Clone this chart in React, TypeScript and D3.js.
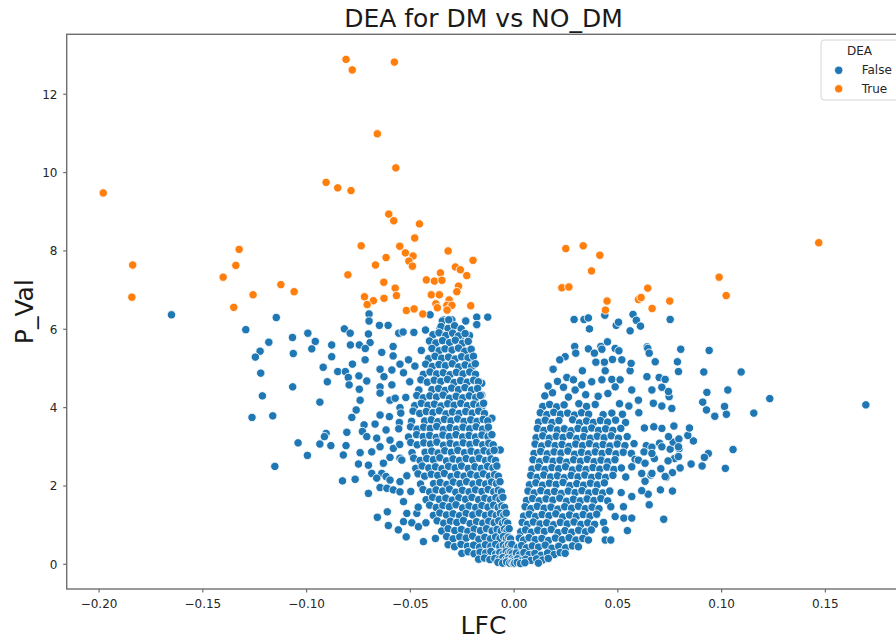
import React from "react";
import * as d3 from "d3";

// ---- data: differential expression results (LFC vs -log10 p) ----
type Pt = [number, number];

// genes flagged as differentially expressed (DEA = True)
const deGenes: Pt[] = [
  [-0.081, 12.89], [-0.078, 12.62], [-0.0577, 12.82], [-0.0659, 10.99], [-0.057, 10.12],
  [-0.0906, 9.75], [-0.085, 9.61], [-0.0786, 9.54], [-0.0604, 8.94], [-0.058, 8.77],
  [-0.0456, 8.69], [-0.0479, 8.33], [-0.0737, 8.13], [-0.0551, 8.12], [-0.0524, 7.95],
  [-0.0487, 7.87], [-0.0617, 7.83], [-0.0507, 7.74], [-0.049, 7.61], [-0.0668, 7.64],
  [-0.0318, 8.0], [-0.0198, 7.76], [-0.0283, 7.59], [-0.0259, 7.52], [-0.0228, 7.37],
  [-0.0355, 7.44], [-0.0801, 7.39], [-0.0423, 7.26], [-0.0384, 7.23], [-0.0348, 7.25],
  [-0.0628, 7.2], [-0.0573, 7.05], [-0.0268, 7.1], [-0.0276, 6.96], [-0.0399, 6.88],
  [-0.036, 6.88], [-0.0721, 6.83], [-0.0567, 6.86], [-0.0627, 6.79], [-0.0678, 6.73],
  [-0.0708, 6.63], [-0.0313, 6.75], [-0.0377, 6.65], [-0.037, 6.55], [-0.0324, 6.61],
  [-0.03, 6.61], [-0.0323, 6.49], [-0.0519, 6.48], [-0.0482, 6.52], [-0.044, 6.39],
  [-0.0209, 6.6],
  [-0.198, 9.48], [-0.1838, 7.64], [-0.1842, 6.82], [-0.1325, 8.04], [-0.1341, 7.63],
  [-0.1402, 7.33], [-0.1258, 6.88], [-0.1351, 6.56], [-0.1124, 7.14], [-0.106, 6.96],
  [0.0249, 8.06], [0.0333, 8.13], [0.0413, 7.89], [0.0373, 7.49], [0.023, 7.06],
  [0.0264, 7.08], [0.0448, 6.72], [0.044, 6.49], [0.0644, 7.05], [0.0599, 6.76],
  [0.0612, 6.81], [0.0665, 6.53], [0.075, 6.72], [0.0988, 7.33], [0.1022, 6.86],
  [0.1468, 8.21],
];

// down-regulated side, scattered genes
const leftSpread: Pt[] = [
  [-0.1651, 6.37], [-0.1293, 5.99], [-0.1146, 6.3], [-0.1068, 5.79], [-0.0994, 5.9],
  [-0.0958, 5.69], [-0.0975, 5.5], [-0.1182, 5.67], [-0.1224, 5.44], [-0.1247, 5.29],
  [-0.1064, 5.38], [-0.1221, 4.88], [-0.1067, 4.53], [-0.1213, 4.3], [-0.0936, 4.14],
  [-0.1263, 3.75], [-0.1163, 3.79], [-0.1041, 3.1], [-0.0936, 3.07], [-0.0996, 2.78],
  [-0.1153, 2.5],
  [-0.0699, 6.39], [-0.0699, 6.21], [-0.0818, 6.01], [-0.079, 5.9], [-0.0702, 5.88],
  [-0.0649, 6.1], [-0.0607, 6.1], [-0.0556, 5.9], [-0.0535, 5.93], [-0.0483, 5.92],
  [-0.0427, 5.98], [-0.0405, 6.37], [-0.0879, 5.6], [-0.0879, 5.3], [-0.0789, 5.6],
  [-0.0746, 5.6], [-0.0694, 5.66], [-0.0717, 5.51], [-0.0638, 5.41], [-0.0583, 5.56],
  [-0.0583, 5.32], [-0.0779, 5.11], [-0.0718, 5.22], [-0.092, 5.03], [-0.085, 4.92],
  [-0.0813, 4.92], [-0.0799, 4.77], [-0.0748, 4.81], [-0.071, 4.68], [-0.09, 4.66],
  [-0.0795, 4.58], [-0.0746, 4.47], [-0.0646, 4.98], [-0.0589, 4.96], [-0.0533, 4.89],
  [-0.055, 5.11], [-0.0509, 5.22], [-0.0627, 4.79], [-0.0646, 4.53], [-0.0646, 4.37],
  [-0.0589, 4.58], [-0.0742, 4.19], [-0.0598, 4.19], [-0.055, 4.0], [-0.0573, 4.24],
  [-0.0761, 3.94], [-0.0782, 3.75], [-0.0646, 3.81], [-0.0601, 3.77], [-0.067, 3.58],
  [-0.0723, 3.56], [-0.0553, 3.62], [-0.0806, 3.37], [-0.0906, 3.34], [-0.0914, 3.26],
  [-0.0731, 3.39], [-0.071, 3.26], [-0.0662, 3.22], [-0.0617, 3.43], [-0.0598, 3.17],
  [-0.0883, 3.03], [-0.081, 3.03], [-0.0823, 2.79], [-0.0742, 2.85], [-0.0686, 2.87],
  [-0.0646, 3.0], [-0.0582, 2.96], [-0.0598, 2.73], [-0.055, 2.71], [-0.075, 2.56],
  [-0.0702, 2.53], [-0.063, 2.58], [-0.0686, 2.32], [-0.0638, 2.32], [-0.0617, 2.24],
  [-0.0662, 2.2], [-0.0827, 2.13], [-0.0766, 2.17], [-0.0598, 2.15], [-0.055, 2.11],
  [-0.0646, 1.96], [-0.0702, 1.81], [-0.0613, 1.94], [-0.0582, 1.9], [-0.055, 1.85],
  [-0.0659, 1.2], [-0.0611, 1.34], [-0.0606, 0.99], [-0.0558, 0.88], [-0.052, 0.7],
  [-0.0533, 1.09], [-0.0517, 1.3], [-0.0469, 1.3], [-0.0437, 0.58], [-0.0493, 1.06],
  [-0.0461, 0.96], [-0.0533, 1.6],
  [-0.0107, 3.73], [-0.0083, 2.92], [-0.0107, 3.0],
  [-0.034, 6.24], [-0.03, 6.24], [-0.0235, 6.22], [-0.018, 6.31], [-0.0127, 6.31],
  [-0.018, 6.11], [-0.0357, 6.02], [-0.0215, 5.84], [-0.026, 5.77], [-0.0212, 5.39],
  [-0.0212, 5.23], [-0.0204, 5.0], [-0.0156, 4.62], [-0.0156, 4.32], [-0.0156, 4.02],
  [-0.0132, 3.43], [-0.0067, 2.92], [-0.0346, 6.21], [-0.0315, 6.24], [-0.0233, 6.21],
  [-0.018, 6.12],
];

// down-regulated side, dense core
const leftCore: Pt[] = [
  [-0.0352, 6.07], [-0.0318, 6.02], [-0.0287, 6.09], [-0.0255, 6.01],
  [-0.0391, 5.86], [-0.0362, 5.91], [-0.0329, 5.84], [-0.0296, 5.9], [-0.0268, 5.83], [-0.0236, 5.89],
  [-0.0408, 5.7], [-0.0377, 5.65], [-0.0345, 5.71], [-0.0311, 5.66], [-0.0283, 5.72], [-0.0249, 5.64], [-0.0221, 5.69],
  [-0.0447, 5.46], [-0.0396, 5.51], [-0.0361, 5.45], [-0.0333, 5.5], [-0.0299, 5.47], [-0.0268, 5.52], [-0.0237, 5.44], [-0.0207, 5.49],
  [-0.0412, 5.25], [-0.0381, 5.31], [-0.0349, 5.26], [-0.0316, 5.29], [-0.0284, 5.24], [-0.0253, 5.3], [-0.0222, 5.27], [-0.0196, 5.31],
  [-0.0478, 5.06], [-0.0426, 5.11], [-0.0394, 5.05], [-0.0362, 5.1], [-0.0331, 5.07], [-0.0298, 5.12], [-0.0267, 5.04], [-0.0236, 5.09], [-0.0205, 5.05], [-0.0187, 5.12],
  [-0.0437, 4.85], [-0.0405, 4.91], [-0.0373, 4.86], [-0.0341, 4.89], [-0.0309, 4.84], [-0.0278, 4.9], [-0.0246, 4.86], [-0.0214, 4.91], [-0.0186, 4.85],
  [-0.0503, 4.66], [-0.0449, 4.71], [-0.0418, 4.65], [-0.0385, 4.7], [-0.0353, 4.67], [-0.0321, 4.72], [-0.0289, 4.64], [-0.0258, 4.69], [-0.0226, 4.65], [-0.0195, 4.7], [-0.0172, 4.66],
  [-0.0459, 4.45], [-0.0396, 4.46], [-0.0364, 4.49], [-0.0332, 4.44], [-0.0301, 4.5], [-0.0268, 4.46], [-0.0237, 4.51], [-0.0205, 4.45], [-0.0176, 4.49],
  [-0.0522, 4.26], [-0.0469, 4.31], [-0.0438, 4.25], [-0.0406, 4.3], [-0.0374, 4.27], [-0.0342, 4.32], [-0.0311, 4.24], [-0.0279, 4.29], [-0.0247, 4.25], [-0.0216, 4.3], [-0.0185, 4.26], [-0.0163, 4.31],
  [-0.0479, 4.05], [-0.0447, 4.11], [-0.0415, 4.06], [-0.0384, 4.09], [-0.0352, 4.04], [-0.032, 4.1], [-0.0289, 4.06], [-0.0257, 4.11], [-0.0225, 4.05], [-0.0194, 4.09], [-0.0166, 4.05], [-0.0147, 4.11],
  [-0.0546, 3.86], [-0.0487, 3.91], [-0.0455, 3.85], [-0.0423, 3.9], [-0.0391, 3.87], [-0.036, 3.92], [-0.0328, 3.84], [-0.0297, 3.89], [-0.0265, 3.85], [-0.0233, 3.9], [-0.0202, 3.86], [-0.0171, 3.91], [-0.0143, 3.85],
  [-0.0494, 3.65], [-0.0431, 3.66], [-0.0399, 3.69], [-0.0367, 3.64], [-0.0336, 3.7], [-0.0304, 3.66], [-0.0272, 3.71], [-0.0241, 3.65], [-0.0209, 3.69], [-0.0178, 3.65], [-0.0149, 3.7], [-0.0127, 3.66],
  [-0.0556, 3.46], [-0.0499, 3.51], [-0.0468, 3.45], [-0.0436, 3.5], [-0.0404, 3.47], [-0.0373, 3.52], [-0.0341, 3.44], [-0.0309, 3.49], [-0.0278, 3.45], [-0.0246, 3.5], [-0.0214, 3.46], [-0.0183, 3.51], [-0.0152, 3.45], [-0.0124, 3.5],
  [-0.0509, 3.25], [-0.047, 3.31], [-0.0438, 3.26], [-0.0407, 3.29], [-0.0375, 3.24], [-0.0343, 3.3], [-0.0312, 3.26], [-0.028, 3.31], [-0.0248, 3.25], [-0.0217, 3.29], [-0.0186, 3.25], [-0.0155, 3.3], [-0.0126, 3.26], [-0.0107, 3.31],
  [-0.0551, 3.06], [-0.0498, 3.11], [-0.0467, 3.05], [-0.0435, 3.1], [-0.0403, 3.07], [-0.0372, 3.12], [-0.034, 3.04], [-0.0308, 3.09], [-0.0277, 3.05], [-0.0245, 3.1], [-0.0213, 3.06], [-0.0182, 3.11], [-0.0151, 3.05], [-0.0122, 3.09], [-0.0101, 3.05],
  [-0.0492, 2.85], [-0.0429, 2.86], [-0.0397, 2.89], [-0.0366, 2.84], [-0.0334, 2.9], [-0.0302, 2.86], [-0.0271, 2.91], [-0.0239, 2.85], [-0.0207, 2.89], [-0.0176, 2.85], [-0.0145, 2.9], [-0.0117, 2.86], [-0.0096, 2.91],
  [-0.0541, 2.66], [-0.0484, 2.71], [-0.0453, 2.65], [-0.0421, 2.7], [-0.0389, 2.67], [-0.0358, 2.72], [-0.0326, 2.64], [-0.0294, 2.69], [-0.0263, 2.65], [-0.0231, 2.7], [-0.0199, 2.66], [-0.0168, 2.71], [-0.0138, 2.65], [-0.0111, 2.69], [-0.009, 2.65],
  [-0.0474, 2.45], [-0.0443, 2.51], [-0.0411, 2.46], [-0.0379, 2.49], [-0.0348, 2.44], [-0.0316, 2.5], [-0.0284, 2.46], [-0.0253, 2.51], [-0.0221, 2.45], [-0.0189, 2.49], [-0.0158, 2.45], [-0.0128, 2.5], [-0.0102, 2.46], [-0.0083, 2.51],
  [-0.0517, 2.26], [-0.0463, 2.31], [-0.0431, 2.25], [-0.0399, 2.3], [-0.0368, 2.27], [-0.0336, 2.32], [-0.0304, 2.24], [-0.0273, 2.29], [-0.0241, 2.25], [-0.0209, 2.3], [-0.0178, 2.26], [-0.0148, 2.31], [-0.0119, 2.25], [-0.0094, 2.29], [-0.0076, 2.25],
  [-0.0451, 2.05], [-0.0388, 2.06], [-0.0356, 2.09], [-0.0324, 2.04], [-0.0293, 2.1], [-0.0261, 2.06], [-0.0229, 2.11], [-0.0198, 2.05], [-0.0167, 2.09], [-0.0137, 2.05], [-0.0109, 2.1], [-0.0085, 2.06], [-0.0068, 2.11],
  [-0.0498, 1.86], [-0.0439, 1.91], [-0.0407, 1.85], [-0.0376, 1.9], [-0.0344, 1.87], [-0.0312, 1.92], [-0.0281, 1.84], [-0.0249, 1.89], [-0.0217, 1.85], [-0.0186, 1.9], [-0.0155, 1.86], [-0.0125, 1.91], [-0.0098, 1.85], [-0.0076, 1.89], [-0.0061, 1.85],
  [-0.0424, 1.65], [-0.0393, 1.71], [-0.0361, 1.66], [-0.0329, 1.69], [-0.0298, 1.64], [-0.0266, 1.7], [-0.0234, 1.66], [-0.0203, 1.71], [-0.0171, 1.65], [-0.0141, 1.69], [-0.0113, 1.65], [-0.0088, 1.7], [-0.0068, 1.66], [-0.0054, 1.71],
  [-0.0462, 1.46], [-0.0407, 1.51], [-0.0375, 1.45], [-0.0343, 1.5], [-0.0312, 1.47], [-0.028, 1.52], [-0.0248, 1.44], [-0.0217, 1.49], [-0.0185, 1.45], [-0.0155, 1.5], [-0.0126, 1.46], [-0.0099, 1.51], [-0.0077, 1.45], [-0.0059, 1.49], [-0.0046, 1.45],
  [-0.0389, 1.25], [-0.0358, 1.31], [-0.0326, 1.26], [-0.0294, 1.29], [-0.0263, 1.24], [-0.0231, 1.3], [-0.0199, 1.26], [-0.0168, 1.31], [-0.0138, 1.25], [-0.011, 1.29], [-0.0086, 1.25], [-0.0066, 1.3], [-0.005, 1.26], [-0.0038, 1.31],
  [-0.0425, 1.06], [-0.0371, 1.11], [-0.0339, 1.05], [-0.0307, 1.1], [-0.0276, 1.07], [-0.0244, 1.12], [-0.0212, 1.04], [-0.0181, 1.09], [-0.0151, 1.05], [-0.0122, 1.1], [-0.0096, 1.06], [-0.0074, 1.11], [-0.0056, 1.05], [-0.0042, 1.09], [-0.0031, 1.05],
  [-0.0349, 0.85], [-0.0318, 0.91], [-0.0286, 0.86], [-0.0254, 0.89], [-0.0223, 0.84], [-0.0192, 0.9], [-0.0162, 0.86], [-0.0133, 0.91], [-0.0106, 0.85], [-0.0082, 0.89], [-0.0062, 0.85], [-0.0046, 0.9], [-0.0034, 0.86], [-0.0024, 0.91],
  [-0.0379, 0.66], [-0.0325, 0.71], [-0.0294, 0.65], [-0.0262, 0.7], [-0.0231, 0.67], [-0.02, 0.72], [-0.017, 0.64], [-0.0141, 0.69], [-0.0114, 0.65], [-0.0089, 0.7], [-0.0068, 0.66], [-0.0051, 0.71], [-0.0037, 0.65], [-0.0026, 0.69], [-0.0017, 0.65],
  [-0.0318, 0.5], [-0.0287, 0.45], [-0.0256, 0.51], [-0.0225, 0.46], [-0.0195, 0.49], [-0.0166, 0.44], [-0.0138, 0.5], [-0.0112, 0.46], [-0.0089, 0.51], [-0.0069, 0.45], [-0.0052, 0.49], [-0.0038, 0.45], [-0.0027, 0.5], [-0.0018, 0.46], [-0.0011, 0.51],
  [-0.0252, 0.28], [-0.0222, 0.32], [-0.0193, 0.27], [-0.0164, 0.31], [-0.0137, 0.29], [-0.0112, 0.33], [-0.0089, 0.26], [-0.0069, 0.3], [-0.0052, 0.27], [-0.0038, 0.32], [-0.0026, 0.28], [-0.0016, 0.31], [-0.0009, 0.27],
  [-0.0171, 0.13], [-0.0143, 0.16], [-0.0117, 0.12], [-0.0093, 0.15], [-0.0072, 0.13], [-0.0054, 0.17], [-0.0039, 0.12], [-0.0027, 0.15], [-0.0017, 0.12], [-0.0009, 0.16], [-0.0003, 0.12],
  [-0.0078, 0.05], [-0.0055, 0.03], [-0.0036, 0.06], [-0.0021, 0.03], [-0.001, 0.05], [-0.0002, 0.02],
];

// up-regulated side, dense core
const rightCore: Pt[] = [
  [0.0148, 4.3], [0.0185, 4.38], [0.0262, 4.27], [0.0345, 4.33], [0.0405, 4.29], [0.0452, 4.36], [0.0164, 4.55],
  [0.0138, 4.03], [0.0171, 4.08], [0.0205, 4.02], [0.0241, 4.07], [0.0312, 4.1], [0.0349, 4.03], [0.0391, 4.08], [0.0508, 4.1], [0.0553, 4.04],
  [0.0126, 3.87], [0.0158, 3.82], [0.0191, 3.88], [0.0224, 3.83], [0.0258, 3.86], [0.0291, 3.81], [0.0325, 3.87], [0.0359, 3.83], [0.0429, 3.82], [0.0471, 3.86], [0.0522, 3.83], [0.0601, 3.87],
  [0.0118, 3.63], [0.015, 3.68], [0.0183, 3.62], [0.0216, 3.67], [0.0282, 3.69], [0.0315, 3.61], [0.0349, 3.66], [0.0382, 3.62], [0.0416, 3.67], [0.0451, 3.63], [0.0489, 3.68], [0.0537, 3.62],
  [0.0112, 3.47], [0.0144, 3.42], [0.0176, 3.48], [0.0209, 3.43], [0.0242, 3.46], [0.0275, 3.41], [0.0308, 3.47], [0.0341, 3.43], [0.0374, 3.48], [0.0407, 3.42], [0.0441, 3.46], [0.0476, 3.42], [0.0514, 3.47], [0.0628, 3.48],
  [0.0106, 3.23], [0.0138, 3.28], [0.017, 3.22], [0.0203, 3.27], [0.0236, 3.24], [0.0269, 3.29], [0.0302, 3.21], [0.0335, 3.26], [0.0368, 3.22], [0.0401, 3.27], [0.0434, 3.23], [0.0468, 3.28], [0.0503, 3.22], [0.0545, 3.26],
  [0.0101, 3.07], [0.0133, 3.02], [0.0165, 3.08], [0.0198, 3.03], [0.0231, 3.06], [0.0264, 3.01], [0.0297, 3.07], [0.033, 3.03], [0.0363, 3.08], [0.0396, 3.02], [0.0429, 3.06], [0.0462, 3.02], [0.0497, 3.07], [0.0534, 3.03], [0.0578, 3.08], [0.0637, 3.03],
  [0.0096, 2.83], [0.0128, 2.88], [0.016, 2.82], [0.0193, 2.87], [0.0226, 2.84], [0.0259, 2.89], [0.0292, 2.81], [0.0325, 2.86], [0.0358, 2.82], [0.0391, 2.87], [0.0424, 2.83], [0.0457, 2.88], [0.0491, 2.82], [0.0526, 2.86], [0.0565, 2.83],
  [0.0091, 2.67], [0.0123, 2.62], [0.0155, 2.68], [0.0188, 2.63], [0.0221, 2.66], [0.0254, 2.61], [0.0287, 2.67], [0.032, 2.63], [0.0353, 2.68], [0.0386, 2.62], [0.0419, 2.66], [0.0452, 2.62], [0.0486, 2.67], [0.0583, 2.68],
  [0.0086, 2.43], [0.0117, 2.48], [0.0149, 2.42], [0.0182, 2.47], [0.0215, 2.44], [0.0248, 2.49], [0.0281, 2.41], [0.0314, 2.46], [0.0347, 2.42], [0.038, 2.47], [0.0413, 2.43], [0.0447, 2.48], [0.0481, 2.42], [0.0517, 2.46],
  [0.008, 2.27], [0.0111, 2.22], [0.0143, 2.28], [0.0176, 2.23], [0.0209, 2.26], [0.0242, 2.21], [0.0275, 2.27], [0.0308, 2.23], [0.0341, 2.28], [0.0374, 2.22], [0.0407, 2.26], [0.0441, 2.22], [0.0476, 2.27], [0.0538, 2.23],
  [0.0074, 2.03], [0.0105, 2.08], [0.0137, 2.02], [0.017, 2.07], [0.0203, 2.04], [0.0236, 2.09], [0.0269, 2.01], [0.0302, 2.06], [0.0335, 2.02], [0.0368, 2.07], [0.0401, 2.03], [0.0435, 2.08],
  [0.0067, 1.87], [0.0097, 1.82], [0.0129, 1.88], [0.0162, 1.83], [0.0195, 1.86], [0.0228, 1.81], [0.0261, 1.87], [0.0294, 1.83], [0.0327, 1.88], [0.036, 1.82], [0.0393, 1.86], [0.0427, 1.82], [0.0461, 1.87], [0.0516, 1.83],
  [0.006, 1.63], [0.0089, 1.68], [0.0121, 1.62], [0.0154, 1.67], [0.0187, 1.64], [0.022, 1.69], [0.0253, 1.61], [0.0286, 1.66], [0.0319, 1.62], [0.0352, 1.67], [0.0385, 1.63], [0.0418, 1.68], [0.0451, 1.62],
  [0.0053, 1.47], [0.0081, 1.42], [0.0112, 1.48], [0.0145, 1.43], [0.0178, 1.46], [0.0211, 1.41], [0.0244, 1.47], [0.0277, 1.43], [0.031, 1.48], [0.0343, 1.42], [0.0376, 1.46], [0.0409, 1.42], [0.0466, 1.47],
  [0.0046, 1.23], [0.0073, 1.28], [0.0103, 1.22], [0.0135, 1.27], [0.0168, 1.24], [0.0201, 1.29], [0.0234, 1.21], [0.0267, 1.26], [0.03, 1.22], [0.0333, 1.27], [0.0366, 1.23], [0.0398, 1.28],
  [0.0039, 1.07], [0.0064, 1.02], [0.0093, 1.08], [0.0125, 1.03], [0.0157, 1.06], [0.019, 1.01], [0.0223, 1.07], [0.0256, 1.03], [0.0289, 1.08], [0.0322, 1.02], [0.0355, 1.06], [0.0388, 1.02], [0.0431, 1.07],
  [0.0032, 0.83], [0.0055, 0.88], [0.0083, 0.82], [0.0114, 0.87], [0.0146, 0.84], [0.0179, 0.89], [0.0212, 0.81], [0.0245, 0.86], [0.0278, 0.82], [0.0311, 0.87], [0.0344, 0.83], [0.0372, 0.88],
  [0.0025, 0.67], [0.0046, 0.62], [0.0072, 0.68], [0.0102, 0.63], [0.0134, 0.66], [0.0166, 0.61], [0.0199, 0.67], [0.0232, 0.63], [0.0265, 0.68], [0.0298, 0.62], [0.0331, 0.66],
  [0.0018, 0.43], [0.0036, 0.48], [0.006, 0.42], [0.0088, 0.47], [0.0118, 0.44], [0.015, 0.49], [0.0182, 0.41], [0.0215, 0.46], [0.0248, 0.42], [0.0281, 0.47],
  [0.0011, 0.29], [0.0026, 0.24], [0.0047, 0.3], [0.0072, 0.25], [0.01, 0.28], [0.013, 0.23], [0.0161, 0.29], [0.0193, 0.25], [0.0222, 0.3],
  [0.0005, 0.1], [0.0017, 0.14], [0.0034, 0.09], [0.0056, 0.13], [0.0081, 0.1], [0.0108, 0.14], [0.0137, 0.11],
  [0.0003, 0.03], [0.0015, 0.05], [0.0031, 0.02], [0.0052, 0.04],
];

// up-regulated side, scattered genes
const rightSpread: Pt[] = [
  [0.0289, 6.25], [0.0337, 6.25], [0.0358, 6.29], [0.0363, 6.01], [0.0437, 6.36],
  [0.0492, 6.1], [0.0503, 6.18], [0.0573, 6.38], [0.0589, 6.23], [0.0609, 6.08],
  [0.0559, 5.96], [0.0752, 6.25], [0.045, 5.68], [0.0418, 5.56], [0.0641, 5.55],
  [0.0803, 5.49], [0.094, 5.46], [0.0292, 5.56], [0.0358, 5.5],
  [0.0914, 4.91], [0.1094, 4.91], [0.103, 4.45], [0.0929, 4.39], [0.0909, 4.14],
  [0.1014, 4.03], [0.0927, 3.94], [0.0967, 3.78], [0.1023, 3.83], [0.1155, 3.86],
  [0.1232, 4.23], [0.1695, 4.07], [0.1055, 2.93], [0.0936, 2.83], [0.0917, 2.73],
  [0.1018, 2.45],
  [0.0906, 2.51], [0.0853, 2.56], [0.08, 2.46], [0.0763, 2.34], [0.0733, 2.22],
  [0.0705, 1.9], [0.0763, 1.87], [0.0651, 1.52], [0.0721, 1.15], [0.0646, 1.79],
  [0.0615, 1.88], [0.0631, 2.12], [0.0659, 2.28], [0.0707, 2.44], [0.0773, 2.7],
  [0.0795, 2.95], [0.0752, 2.94], [0.0742, 2.64], [0.0766, 3.12], [0.0794, 3.2],
  [0.0864, 3.15], [0.0837, 3.29], [0.0845, 3.48], [0.077, 3.53], [0.0744, 3.26],
  [0.0712, 3.47], [0.0673, 3.51], [0.0701, 3.09], [0.0664, 2.99], [0.0626, 2.87],
  [0.0676, 2.7],
  [0.0439, 0.62], [0.0466, 0.62], [0.0546, 0.86], [0.0529, 1.18], [0.0567, 1.18],
  [0.0246, 5.3], [0.022, 5.22], [0.0297, 5.39], [0.0387, 5.39], [0.0423, 5.49],
  [0.0487, 5.51], [0.0505, 5.45], [0.0519, 5.22], [0.0474, 5.23], [0.0435, 5.16],
  [0.0394, 5.16], [0.0439, 4.94], [0.0329, 4.94], [0.0188, 4.98], [0.0209, 4.67],
  [0.0254, 4.77], [0.0286, 4.71], [0.0238, 4.52], [0.0294, 4.45], [0.0326, 4.58],
  [0.0374, 4.66], [0.0423, 4.71], [0.0471, 4.72], [0.0487, 4.53], [0.0511, 4.71],
  [0.0559, 4.94], [0.0564, 5.13], [0.068, 5.17], [0.064, 4.79], [0.0699, 4.77],
  [0.0664, 4.45], [0.0712, 4.52], [0.0747, 4.28], [0.0644, 5.51], [0.0651, 5.39],
  [0.0787, 5.17], [0.0792, 4.92], [0.0728, 4.72], [0.0744, 4.41], [0.0671, 4.11],
  [0.0712, 4.04], [0.076, 3.98], [0.0567, 4.45], [0.0599, 4.19], [0.0792, 3.0],
  [0.0792, 2.75], [0.0712, 3.0], [0.0664, 2.83], [0.0728, 2.24], [0.0664, 2.32],
  [0.0615, 2.32], [0.0599, 2.66], [0.0567, 2.49], [0.0631, 2.58], [0.0567, 1.73],
  [0.0527, 1.47], [0.0487, 1.22], [0.0439, 0.88], [0.0358, 0.62], [0.031, 0.45],
  [0.0246, 0.28], [0.0165, 0.15], [0.0117, 0.03],
];

const nonDeGenes: Pt[] = [...leftSpread, ...leftCore, ...rightCore, ...rightSpread];

const xTicks = [-0.2, -0.15, -0.1, -0.05, 0, 0.05, 0.1, 0.15];
const xTickLabels = ["\u22120.20", "\u22120.15", "\u22120.10", "\u22120.05", "0.00", "0.05", "0.10", "0.15"];
const yTicks = [0, 2, 4, 6, 8, 10, 12];
const legendTitle = "DEA";
const legendLabels = ["False", "True"];
const seriesColors = ["#1f77b4", "#ff7f0e"];

const FONT = "'DejaVu Sans', sans-serif";

export default function App() {
  const left = 66.7, right = 900.3, top = 34.3, bottom = 589;
  const x = d3.scaleLinear().domain([-0.2156, 0.1861]).range([left, right]);
  const y = d3.scaleLinear().domain([-0.63, 13.53]).range([bottom, top]);
  const axisColor = "#6e6e6e";
  const textColor = "#262626";
  const r = 4.2;

  return (
    <svg
      width={896}
      height={642}
      style={{ position: "absolute", left: 0, top: 0, background: "#fff" }}
      fontFamily={FONT}
    >
      <rect x={0} y={0} width={896} height={642} fill="#fff" />

      {/* markers */}
      <g stroke="#fff" strokeWidth={0.85}>
        {nonDeGenes.map((d, i) => (
          <circle key={"n" + i} cx={x(d[0])} cy={y(d[1])} r={r} fill={seriesColors[0]} />
        ))}
        {deGenes.map((d, i) => (
          <circle key={"d" + i} cx={x(d[0])} cy={y(d[1])} r={r} fill={seriesColors[1]} />
        ))}
      </g>

      {/* frame */}
      <rect x={left} y={top} width={right - left} height={bottom - top} fill="none" stroke={axisColor} strokeWidth={1.4} />

      {/* x axis */}
      {xTicks.map((t, i) => (
        <g key={"xt" + i}>
          <line x1={x(t)} x2={x(t)} y1={bottom} y2={bottom + 3.5} stroke={axisColor} strokeWidth={1.2} />
          <text x={x(t)} y={608.3} fontSize={12} textAnchor="middle" fill={textColor}>
            {xTickLabels[i]}
          </text>
        </g>
      ))}

      {/* y axis */}
      {yTicks.map((t, i) => (
        <g key={"yt" + i}>
          <line x1={left - 3.5} x2={left} y1={y(t)} y2={y(t)} stroke={axisColor} strokeWidth={1.2} />
          <text x={57.5} y={y(t) + 4.4} fontSize={12} textAnchor="end" fill={textColor}>
            {String(t)}
          </text>
        </g>
      ))}

      {/* titles */}
      <text x={(left + right) / 2} y={27} fontSize={25} textAnchor="middle" fill="#1a1a1a">
        DEA for DM vs NO_DM
      </text>
      <text x={(left + right) / 2} y={634} fontSize={25} textAnchor="middle" fill="#1a1a1a">
        LFC
      </text>
      <text
        transform={`translate(33,${(top + bottom) / 2}) rotate(-90)`}
        fontSize={25}
        textAnchor="middle"
        fill="#1a1a1a"
      >
        P_Val
      </text>

      {/* legend */}
      <g>
        <rect x={821} y={40} width={82} height={60} rx={3} fill="#fff" fillOpacity={0.85} stroke="#d6d6d6" strokeWidth={1} />
        <text x={859.5} y={55} fontSize={12} textAnchor="middle" fill={textColor}>
          {legendTitle}
        </text>
        {legendLabels.map((lab, i) => (
          <g key={"lg" + i}>
            <circle cx={838.7} cy={70.3 + i * 18.5} r={r} fill={seriesColors[i]} stroke="#fff" strokeWidth={0.85} />
            <text x={861.7} y={74.3 + i * 18.5} fontSize={12} fill={textColor}>
              {lab}
            </text>
          </g>
        ))}
      </g>
    </svg>
  );
}
